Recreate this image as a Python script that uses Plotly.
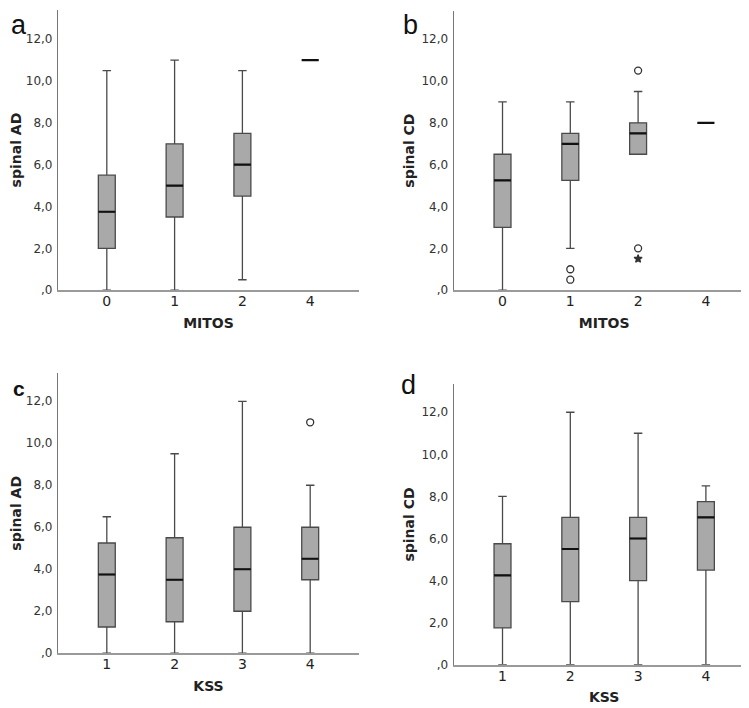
import plotly.graph_objects as go

# ---------------- data ----------------
mitos_cats = ["0", "1", "2", "4"]
kss_cats = ["1", "2", "3", "4"]

# panel a: spinal AD by MITOS
a_low = [0.0, 0.0, 0.5, 11.0]
a_q1 = [2.0, 3.5, 4.5, 11.0]
a_med = [3.75, 5.0, 6.0, 11.0]
a_q3 = [5.5, 7.0, 7.5, 11.0]
a_high = [10.5, 11.0, 10.5, 11.0]

# panel b: spinal CD by MITOS
b_low = [0.0, 2.0, 6.5, 8.0]
b_q1 = [3.0, 5.25, 6.5, 8.0]
b_med = [5.25, 7.0, 7.5, 8.0]
b_q3 = [6.5, 7.5, 8.0, 8.0]
b_high = [9.0, 9.0, 9.5, 8.0]
b_out_x = ["1", "1", "2", "2"]
b_out_y = [1.0, 0.5, 10.5, 2.0]
b_ext_x = ["2"]
b_ext_y = [1.5]

# panel c: spinal AD by KSS
c_low = [0.0, 0.0, 0.0, 0.0]
c_q1 = [1.25, 1.5, 2.0, 3.5]
c_med = [3.75, 3.5, 4.0, 4.5]
c_q3 = [5.25, 5.5, 6.0, 6.0]
c_high = [6.5, 9.5, 12.0, 8.0]
c_out_x = ["4"]
c_out_y = [11.0]

# panel d: spinal CD by KSS
d_low = [0.0, 0.0, 0.0, 0.0]
d_q1 = [1.75, 3.0, 4.0, 4.5]
d_med = [4.25, 5.5, 6.0, 7.0]
d_q3 = [5.75, 7.0, 7.0, 7.75]
d_high = [8.0, 12.0, 11.0, 8.5]

ytick_vals = [0, 2, 4, 6, 8, 10, 12]
ytick_text = [",0", "2,0", "4,0", "6,0", "8,0", "10,0", "12,0"]

# ---------------- styling ----------------
W, H = 749, 708
FONT = "DejaVu Sans"
BOX_FILL = "#a9a9a9"
BOX_LINE = "#4a4a4a"
BOX_W = 0.25

fig = go.Figure()


def add_panel(idx, cats, low, q1, med, q3, high):
    xa = "x" if idx == 1 else f"x{idx}"
    ya = "y" if idx == 1 else f"y{idx}"
    fig.add_trace(go.Box(
        x=cats, q1=q1, median=med, q3=q3, lowerfence=low, upperfence=high,
        xaxis=xa, yaxis=ya, width=BOX_W, whiskerwidth=0.5,
        fillcolor=BOX_FILL, line=dict(color=BOX_LINE, width=1.3),
        boxpoints=False, showlegend=False, hoverinfo="skip"))
    # median line
    fig.add_trace(go.Box(
        x=cats, q1=med, median=med, q3=med, lowerfence=med, upperfence=med,
        xaxis=xa, yaxis=ya, width=BOX_W, whiskerwidth=0,
        fillcolor="rgba(0,0,0,0)", line=dict(color="#111111", width=2.2),
        boxpoints=False, showlegend=False, hoverinfo="skip"))


def add_points(idx, xs, ys, symbol, size):
    xa = "x" if idx == 1 else f"x{idx}"
    ya = "y" if idx == 1 else f"y{idx}"
    fig.add_trace(go.Scatter(
        x=xs, y=ys, mode="markers", xaxis=xa, yaxis=ya,
        marker=dict(symbol=symbol, size=size, color="#333333",
                    line=dict(color="#333333", width=1.3)),
        showlegend=False, hoverinfo="skip"))


add_panel(1, mitos_cats, a_low, a_q1, a_med, a_q3, a_high)
add_panel(2, mitos_cats, b_low, b_q1, b_med, b_q3, b_high)
add_points(2, b_out_x, b_out_y, "circle-open", 7)
add_points(2, b_ext_x, b_ext_y, "star", 6)
add_panel(3, kss_cats, c_low, c_q1, c_med, c_q3, c_high)
add_points(3, c_out_x, c_out_y, "circle-open", 7)
add_panel(4, kss_cats, d_low, d_q1, d_med, d_q3, d_high)


def px_dom_x(l, r):
    return [l / W, r / W]


def px_dom_y(top, bottom):
    return [(H - bottom) / H, (H - top) / H]


panels = {
    1: dict(xd=px_dom_x(50, 351), yd=px_dom_y(2, 285), ymax=13.4, xt="MITOS", yt="spinal AD", cats=mitos_cats),
    2: dict(xd=px_dom_x(445.7, 746.7), yd=px_dom_y(3, 285), ymax=13.35, xt="MITOS", yt="spinal CD", cats=mitos_cats),
    3: dict(xd=px_dom_x(50, 351), yd=px_dom_y(369, 651.7), ymax=13.33, xt="KSS", yt="spinal AD", cats=kss_cats),
    4: dict(xd=px_dom_x(445.7, 746.7), yd=px_dom_y(380, 663.3), ymax=13.33, xt="KSS", yt="spinal CD", cats=kss_cats),
}

layout = dict(
    width=W, height=H, margin=dict(l=0, r=0, t=0, b=0),
    paper_bgcolor="white", plot_bgcolor="white",
    boxmode="overlay", showlegend=False,
    font=dict(family=FONT, color="#222222"),
)

for i, p in panels.items():
    xk = "xaxis" if i == 1 else f"xaxis{i}"
    yk = "yaxis" if i == 1 else f"yaxis{i}"
    xa = "x" if i == 1 else f"x{i}"
    ya = "y" if i == 1 else f"y{i}"
    layout[xk] = dict(
        domain=p["xd"], anchor=ya, type="category",
        categoryorder="array", categoryarray=p["cats"],
        range=[-0.72, 3.72], showgrid=False, zeroline=False,
        showline=True, linecolor="#9a9a9a", linewidth=2,
        ticks="", ticklabelstandoff=-3,
        tickfont=dict(size=14, color="#222222", family=FONT),
        title=dict(text="<b>" + p["xt"] + "</b>", font=dict(size=14, family=FONT, color="#222222"), standoff=10),
        fixedrange=True,
    )
    layout[yk] = dict(
        domain=p["yd"], anchor=xa, range=[0, p["ymax"]],
        tickvals=ytick_vals, ticktext=ytick_text,
        showgrid=False, zeroline=False,
        showline=True, linecolor="#777777", linewidth=1.2,
        ticks="", ticklabelstandoff=2,
        tickfont=dict(size=12, color="#333333", family=FONT),
        title=dict(text="<b>" + p["yt"] + "</b>", font=dict(size=14, family=FONT, color="#222222"), standoff=3),
        fixedrange=True,
    )

fig.update_layout(**layout)

letters = [("a", 11, 17, 27, False), ("b", 402, 17, 27, False),
           ("c", 11, 384, 21, True), ("d", 400, 381, 27, False)]
for t, x, y, s, bold in letters:
    fig.add_annotation(
        x=x / W, y=1 - y / H, xref="paper", yref="paper",
        text=("<b>" + t + "</b>") if bold else t, showarrow=False,
        xanchor="center", yanchor="middle",
        font=dict(size=s, family="Liberation Sans", color="#111111"))

fig.write_html("out.html")
